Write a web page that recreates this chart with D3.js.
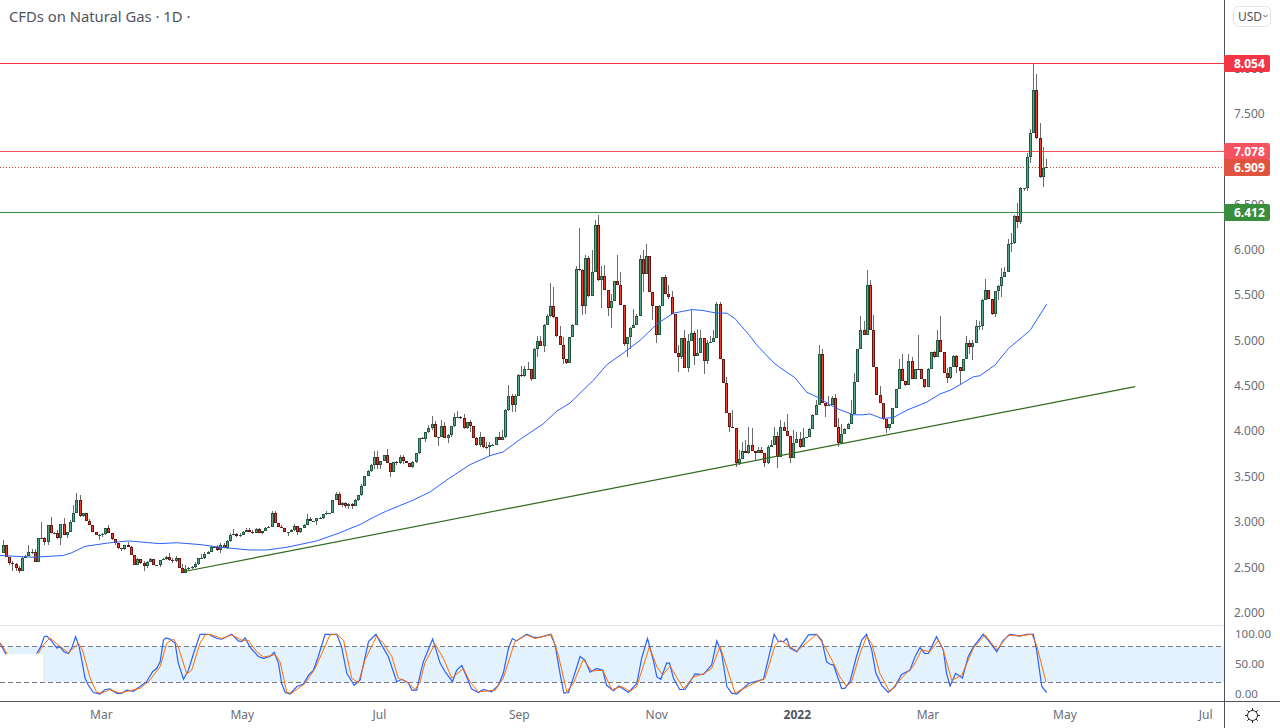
<!DOCTYPE html>
<html>
<head>
<meta charset="utf-8">
<script src="https://cdn.jsdelivr.net/npm/d3@7/dist/d3.min.js"></script>
<style>
  html, body { margin: 0; padding: 0; background: #fff; overflow: hidden; }
  svg { display: block; font-family: "Noto Sans", sans-serif; }
</style>
</head>
<body>
<div id="chart"></div>
<script>
var closes = [
  2.75,2.61,2.55,2.54,2.49,2.46,2.60,2.62,2.67,2.67,
  2.56,2.82,2.82,2.775,2.97,2.88,2.88,2.82,2.98,2.86,
  2.89,3.00,3.10,3.24,3.06,3.10,3.01,2.96,2.89,2.86,
  2.86,2.87,2.93,2.88,2.81,2.77,2.71,2.70,2.75,2.72,
  2.64,2.53,2.59,2.55,2.51,2.56,2.59,2.53,2.53,2.575,
  2.59,2.61,2.58,2.57,2.60,2.49,2.44,2.48,2.49,2.505,
  2.54,2.60,2.60,2.65,2.67,2.72,2.72,2.69,2.75,2.71,
  2.79,2.86,2.87,2.84,2.86,2.89,2.91,2.89,2.875,2.92,
  2.88,2.90,2.93,2.94,3.10,2.99,2.94,2.93,2.89,2.89,
  2.91,2.95,2.89,2.93,2.97,3.03,3.01,3.01,3.04,3.04,
  3.09,3.10,3.10,3.24,3.31,3.19,3.21,3.18,3.20,3.17,
  3.24,3.30,3.40,3.505,3.56,3.63,3.71,3.63,3.67,3.74,
  3.65,3.55,3.66,3.65,3.72,3.67,3.65,3.60,3.66,3.76,
  3.92,3.91,3.985,4.03,4.08,3.93,3.94,4.06,3.92,3.96,
  4.06,4.16,4.16,4.14,4.04,4.10,4.06,3.92,3.85,3.94,
  3.83,3.82,3.85,3.85,3.93,3.90,3.93,4.23,4.39,4.29,
  4.39,4.62,4.61,4.68,4.68,4.57,4.91,4.99,4.94,5.17,
  5.27,5.38,5.26,5.05,4.95,4.80,4.75,5.04,5.17,5.79,
  5.78,5.38,5.91,5.49,5.75,6.27,5.67,5.71,5.56,5.36,
  5.43,5.65,5.61,5.39,4.96,5.04,5.14,5.17,5.27,5.90,
  5.73,5.93,5.53,5.38,5.06,5.38,5.70,5.51,5.48,5.29,
  4.86,4.82,5.03,4.70,4.99,5.08,4.83,4.86,5.03,4.77,
  4.975,4.98,5.03,5.40,4.80,4.535,4.205,4.05,4.04,3.645,
  3.69,3.78,3.755,3.85,3.78,3.755,3.79,3.76,3.645,3.82,
  3.85,3.95,3.71,4.05,4.00,3.95,3.70,3.865,3.91,3.83,
  3.92,3.93,4.02,4.18,4.29,4.85,4.31,4.28,4.29,4.37,
  4.05,3.865,3.97,4.02,4.08,4.19,4.545,4.91,5.11,5.06,
  5.615,5.11,4.71,4.40,4.31,4.13,4.03,4.08,4.25,4.46,
  4.69,4.55,4.51,4.77,4.57,4.69,4.68,4.57,4.49,4.68,
  4.875,4.82,5.00,4.875,4.645,4.59,4.71,4.83,4.71,4.66,
  4.80,4.975,4.93,4.975,5.16,5.16,5.44,5.56,5.46,5.29,
  5.54,5.60,5.70,5.755,6.06,6.07,6.37,6.30,6.68,6.68,
  7.02,7.29,7.755,7.235,6.805,6.905,6.909
];
var firstOpen = 2.66;

// wick length above the body, one per bar
var wickUp = [
  .055,0,0,.02,.01,.02,.01,.01,.07,.035,
  .035,0,.18,.01,0,.085,.01,.03,0,.065,
  0,.02,.09,.075,.055,0,0,.02,0,0,
  .01,.01,0,.035,0,0,0,0,0,.025,
  .01,0,.01,0,.02,.01,.01,0,0,.01,
  .01,.015,.045,.02,.02,0,.05,.05,.01,.01,
  .02,0,.05,.015,.01,.015,.01,.025,.02,.02,
  .015,.015,.05,.01,.02,.01,.02,.02,.02,.01,
  .01,0,.01,.01,.025,.02,0,.02,0,0,
  .01,.025,0,0,.01,.055,.02,0,0,.01,
  0,.02,0,0,.02,.02,.01,.01,.01,.01,
  .01,0,.02,0,.01,.01,.07,.075,0,0,
  .06,0,0,.01,.02,.02,0,0,.01,0,
  0,.01,0,.035,.09,.035,0,.06,.04,.01,
  0,.035,.06,.01,.05,0,.02,0,.02,.05,
  0,.05,.03,.01,.01,.055,.08,.01,.115,.02,
  .02,.01,.1,.035,.085,.01,.01,.055,.055,.01,
  .02,.25,.21,0,.105,.09,0,0,.01,.025,
  .45,.01,.03,.025,.25,.06,.11,.11,.12,0,
  .08,.01,.29,.145,0,0,.01,.18,.02,.04,
  .1,.13,0,0,0,.01,0,.02,.1,.065,
  0,.085,0,.08,.08,.25,.02,.27,.08,0,
  .03,.07,.08,.02,.02,0,.06,0,.18,0,
  .1,.1,.12,.2,.19,0,.04,.04,0,.03,
  .05,.1,.04,.07,.05,.19,0,.15,.08,.08,
  .11,.01,.01,.01,.055,.1,.06,0,.1,.02,
  .04,.09,.11,.01,.01,.15,.1,0,.16,.1,
  .16,.05,.17,0,.1,0,0,0,0,0,
  .11,.16,0,.08,.05,0,.37,.01,0,.02,
  0,.01,.11,.27,0,.05,0,.01,.01,0,
  0,.07,.025,.025,.065,.05,.02,.12,0,0,
  0,.01,.1,.05,.055,.11,.01,.14,.01,0,
  .05,.035,.30,.18,.16,.23,.09
];

// wick length below the body, one per bar
var wickDown = [
  0,0,.03,.08,.035,.025,0,0,0,.02,
  0,0,.01,.03,.025,0,0,.01,.07,0,
  .035,0,0,0,.01,.01,0,0,0,.01,
  .065,.03,.01,0,.01,.02,.01,.02,.01,0,
  0,0,.01,.01,.05,.02,0,0,0,.03,
  0,.01,.01,.02,.01,0,0,0,.01,.01,
  .01,.01,0,.01,0,0,.01,.01,.035,0,
  .01,.01,0,.01,.01,.01,0,0,.01,0,
  0,.01,0,0,0,0,0,0,0,.045,
  0,.01,.04,.01,0,0,0,.01,.05,0,
  .01,.01,.01,0,0,0,.025,.03,.04,.03,
  0,.01,.01,.01,0,.01,.05,.05,.045,0,
  0,.05,0,.02,.01,.03,0,0,.01,.01,
  .01,0,.035,.01,.02,0,.09,.01,0,.055,
  .03,.01,0,.01,.02,.02,.065,0,.01,.02,
  .02,.02,.09,0,0,0,0,.01,.01,.08,
  .08,0,.01,.01,0,.015,0,.09,0,.065,
  0,.01,.01,.01,0,.055,.01,0,0,0,
  .01,.1,.09,.01,0,0,.01,.31,0,.095,
  .22,0,0,0,.02,.14,.135,0,0,0,
  .2,0,0,.15,.09,0,0,0,.02,0,
  0,.17,.03,0,.05,0,.1,0,0,.14,
  .03,0,0,0,0,.01,0,.06,0,.035,
  .02,0,0,.01,0,.07,0,0,.045,.01,
  0,0,.12,0,0,0,.055,0,0,.02,
  0,0,0,0,0,0,0,.12,0,0,
  0,.045,0,0,0,0,0,0,0,0,
  0,0,0,0,0,.01,.055,.02,0,0,
  0,0,.01,0,0,0,0,0,.01,0,
  0,.01,0,0,0,.065,.02,0,.07,.14,
  0,0,.08,.15,0,.045,.04,0,0,.01,
  .035,.1,.12,0,0,.09,.01,.06,.02,.03,
  .03,.06,0,.01,.02,.11,.01
];

// 50-period moving average, read along the time scale
var maBars = [-0.8,9.4,18.7,21.3,25.4,33.1,38.8,48.5,53.7,60.9,67.1,76.3,81.5,87.7,96.9,104.1,106.7,110.3,114.4,118.5,122.6,126.7,131.9,137.8,144.2,150.4,154.4,159.7,166.8,171,175.1,182.3,186.4,191.5,196.7,201.9,207,212.7,216.1,220.4,223.5,226,230.6,232.7,237.8,239.9,244.5,248.1,251.7,257.4,262.5,265.6,267.7,271.3,274.9,279,285.2,289.3,292.4,295.4,299.6,301.6,306.3,310.4,317.1,322.2];
var maValues = [2.63,2.61,2.63,2.66,2.73,2.77,2.79,2.76,2.77,2.75,2.72,2.69,2.69,2.72,2.79,2.88,2.92,2.97,3.05,3.12,3.18,3.24,3.33,3.48,3.63,3.73,3.77,3.91,4.08,4.22,4.31,4.56,4.73,4.86,5.0,5.18,5.30,5.34,5.33,5.30,5.30,5.24,5.05,4.95,4.76,4.70,4.59,4.43,4.37,4.25,4.18,4.18,4.19,4.14,4.15,4.23,4.32,4.41,4.45,4.51,4.60,4.61,4.73,4.91,5.11,5.40];

// support line end points
var trendBars = [55.6, 349.5];
var trendValues = [2.45, 4.49];

var kBars = [-0.8,0,1,5,10.5,11.7,12.8,13.6,14.6,15.6,16.7,17.7,18.9,20.3,21.3,22.5,23.6,24.4,25.4,26.4,28,30,31.6,33.1,35.2,36.7,38.3,40.3,42.4,44.4,46.3,47.5,48.6,49.6,50.3,51.6,53.2,54.2,55.8,57.3,58.9,60.9,63.5,66.1,67.6,70.7,72.7,73.8,74.8,76.3,78.9,80.5,82.5,83.8,85.1,86.1,87.2,88.7,90.8,92.8,94.4,95.9,97.4,99.5,103.1,104.6,106.2,108.5,110.3,112.9,115.2,117.5,119,121.6,123.2,125.2,126.3,127.8,128.8,129.8,132.7,135,136.5,138.8,140.1,141.7,143.2,144.7,146.8,148.4,150.9,153,154.5,156.1,157.3,158.6,161.7,163.8,165.8,169.1,170.5,172,173.2,174.6,176.1,178.2,179.7,181.3,183.3,185.2,186.4,188.5,190.2,193.1,195.7,197.2,199,200.8,201.9,203.1,204.9,205.8,207,208.9,210.6,213.7,216.3,218.8,220.4,221.9,223.5,225,226.6,230.2,234.8,238.1,239.4,241,242,243,245.1,248.7,251.2,252.8,254.3,255.4,256.4,258.4,258.9,259.9,261.5,263.5,265.1,266.6,268.2,269.5,271.3,273.3,275.4,277.4,280,281.6,283.1,284.6,285.7,288.2,290.3,291.3,292.4,294.1,296.2,298,299.6,302.6,304.2,306.8,308.8,310.9,314,316,318.1,319.1,320.7,322.2];
var kValues = [85,77,67,null,68,79,96,97,92,85,77,79,71,68,77,96,79,57,27,15.5,3,0.5,8,9,1.6,1.6,7,5,13,21,38,43,54,90,94,92,85,52,25,40,68,100,100,93,92,100,89,88,94,79,63,60,63,70,52,18,3,0.5,13,17,32,40,63,100,100,79,35,15,24,88,100,77,63,21,25,19,7,7,32,54,92,52,38,21,40,48,29,9,3,8,4,15,35,77,93,89,100,95,95,100,82,35,2,3,27,63,57,37,43,40,15,6,14,3,18,60,93,57,29,25,52,52,27,8,8,34,33,49,89,68,13,2,0.5,18,25,100,88,88,93,77,71,99,100,90,54,50,49,18,10,10,21,63,90,100,74,35,15,3,13,33,40,63,78,68,68,96,74,35,14,35,27,63,79,100,90,71,90,100,97,100,100,74,13,3];

var dBars = [-0.8,0.7,1.4,5,11,12.5,14.6,16.7,20.3,23.4,24.6,27,29,30.6,33.1,36.2,39.8,42.4,45,48.6,50.6,52.7,54.2,56.8,58.3,60.9,62.5,64,67.6,70.7,73.8,75.8,78.4,80.5,84.1,85.6,87.7,89.2,93.3,96.4,98.5,101,103.1,105.2,107.7,109.8,111.8,115.4,117.5,120.1,122.1,124.7,127.3,128.8,130.3,133.4,136,138.6,142.2,144.2,146.8,152,154.5,158.1,161.7,164.3,169.4,171.5,174.1,176.1,179.2,181.8,185.2,188,191.1,193.6,195.7,199.6,201.9,203.7,206,210.1,213.2,216.3,218.8,221.4,226,231.7,235.3,238.4,240.1,245.1,251.2,253.8,256.4,258.4,260.5,262,264.6,266.6,268.2,270.7,273.8,275.9,279,281,283.6,286.2,288.8,290.3,292.9,296,299.6,303.2,306.8,310.4,313.5,317.6,319.1,322];
var dValues = [86,74,67,null,68,82,94,84,69,85,74,27,3,2,8,2,7,10,21,46,85,92,79,34,40,85,99,100,93,99,90,90,71,62,66,54,3,2,18,43,68,99,100,90,27,19,57,97,85,63,27,21,8,21,52,84,60,27,43,21,4,7,27,88,99,93,100,65,4,18,58,39,40,8,13,5,13,79,46,32,47,9,29,34,43,80,2,18,27,82,90,72,100,79,52,29,13,21,68,96,85,35,4,18,36,46,74,71,90,74,23,32,77,99,74,99,97,100,82,20.5];

// horizontal levels with their price labels
var levelValues = [8.054, 7.078, 6.909, 6.412];
var levelColors = ["#f23645", "#f7525f", "#e0533f", "#388e3c"];

var priceTicks = [2, 2.5, 3, 3.5, 4, 4.5, 5, 5.5, 6, 6.5, 7, 7.5, 8];
var stochTicks = [0, 50, 100];
var timeBars = [30.3, 73.8, 116.1, 159.3, 201.7, 245.1, 285.4, 327.7, 371.1];
var timeLabels = ["Mar", "May", "Jul", "Sep", "Nov", "2022", "Mar", "May", "Jul"];

var width = 1280, height = 728;
var paneRight = 1224.5, stochTop = 625, timeAxisY = 701;
var lastBarX = 1046, barStep = 3.2;

var svg = d3.select("#chart").append("svg")
    .attr("width", width)
    .attr("height", height);

var x = d3.scaleLinear().domain([0, 322]).range([2.7, lastBarX]);
var xBar = d3.scaleLinear()
    .domain([0, closes.length - 1])
    .range([lastBarX - (closes.length - 1) * barStep, lastBarX]);
var y = d3.scaleLinear().domain([2, 8]).range([612.6, 68.2]);
var yStoch = d3.scaleLinear().domain([0, 100]).range([694.3, 634.3]);

var bars = closes.map(function(c, i) {
    var o = i === 0 ? firstOpen : closes[i - 1];
    return {
        pos: i,
        open: o,
        close: c,
        high: Math.max(o, c) + wickUp[i],
        low: Math.min(o, c) - wickDown[i]
    };
});

// stochastic band
svg.append("rect")
    .attr("x", 43).attr("y", yStoch(80))
    .attr("width", paneRight - 43).attr("height", yStoch(20) - yStoch(80))
    .attr("fill", "#e3f2fd");
svg.append("rect")
    .attr("x", 7).attr("y", yStoch(80))
    .attr("width", 36).attr("height", 8)
    .attr("fill", "#e3f2fd");

[80, 20].forEach(function(v) {
    svg.append("line")
        .attr("x1", 0).attr("x2", paneRight)
        .attr("y1", Math.round(yStoch(v)) + 0.5).attr("y2", Math.round(yStoch(v)) + 0.5)
        .attr("stroke", "#787b86")
        .attr("stroke-dasharray", "5,3");
});

var lineStoch = d3.line()
    .defined(function(d) { return d[1] !== null; })
    .x(function(d) { return x(d[0]); })
    .y(function(d) { return yStoch(d[1]); });

svg.append("path")
    .datum(d3.zip(kBars, kValues))
    .attr("d", lineStoch)
    .attr("fill", "none")
    .attr("stroke", "#2962ff")
    .attr("stroke-width", 1.2);
svg.append("path")
    .datum(d3.zip(dBars, dValues))
    .attr("d", lineStoch)
    .attr("fill", "none")
    .attr("stroke", "#ff6d00")
    .attr("stroke-width", 1);

// price levels
levelValues.forEach(function(v, i) {
    svg.append("line")
        .attr("x1", 0).attr("x2", paneRight)
        .attr("y1", Math.floor(y(v)) + 0.5).attr("y2", Math.floor(y(v)) + 0.5)
        .attr("stroke", levelColors[i])
        .attr("stroke-dasharray", v === 6.909 ? "1,2" : null);
});

// candles
var candle = svg.append("g").selectAll("g")
    .data(bars)
    .join("g")
    .attr("shape-rendering", "crispEdges")
    .attr("transform", function(d) { return "translate(" + Math.round(xBar(d.pos)) + ",0)"; });

candle.append("rect")
    .attr("x", 0).attr("width", 1)
    .attr("y", function(d) { return y(d.high); })
    .attr("height", function(d) { return y(d.low) - y(d.high); })
    .attr("fill", "#6b6b6b");
candle.append("rect")
    .attr("x", -1).attr("width", 3)
    .attr("y", function(d) { return Math.round(y(Math.max(d.open, d.close))); })
    .attr("height", function(d) { return Math.max(1, Math.round(y(Math.min(d.open, d.close))) - Math.round(y(Math.max(d.open, d.close)))); })
    .attr("fill", function(d) { return d.close >= d.open ? "#1f5a40" : "#6b1510"; });
candle.append("rect")
    .attr("x", 0).attr("width", 1)
    .attr("y", function(d) { return Math.round(y(Math.max(d.open, d.close))) + 1; })
    .attr("height", function(d) { return Math.max(0, Math.round(y(Math.min(d.open, d.close))) - Math.round(y(Math.max(d.open, d.close))) - 2); })
    .attr("fill", function(d) { return d.close >= d.open ? "#56a583" : "#ea3f2c"; });

// moving average
svg.append("path")
    .datum(d3.zip(maBars, maValues))
    .attr("d", d3.line()
        .x(function(d) { return x(d[0]); })
        .y(function(d) { return y(d[1]); }))
    .attr("fill", "none")
    .attr("stroke", "#2962ff")
    .attr("stroke-width", 1);

// support line
svg.append("path")
    .datum(d3.zip(trendBars, trendValues))
    .attr("d", d3.line()
        .x(function(d) { return x(d[0]); })
        .y(function(d) { return y(d[1]); }))
    .attr("stroke", "#33691e")
    .attr("stroke-width", 1.2);

// pane frames
svg.append("line").attr("x1", 0).attr("x2", paneRight)
    .attr("y1", stochTop + 0.5).attr("y2", stochTop + 0.5)
    .attr("stroke", "#e0e3eb");
svg.append("line").attr("x1", 0).attr("x2", width)
    .attr("y1", timeAxisY + 0.5).attr("y2", timeAxisY + 0.5)
    .attr("stroke", "#50535e");
svg.append("line").attr("x1", paneRight).attr("x2", paneRight)
    .attr("y1", 0).attr("y2", height)
    .attr("stroke", "#50535e");

// axes; the 7.000 and 8.000 ticks lie behind the price labels as in the reference
var priceAxis = d3.axisRight(y)
    .tickValues(priceTicks)
    .tickSize(0)
    .tickPadding(0)
    .tickFormat(d3.format(".3f"));
svg.append("g").attr("class", "axis")
    .attr("transform", "translate(1234,0)")
    .call(priceAxis);

var stochAxis = d3.axisRight(yStoch)
    .tickValues(stochTicks)
    .tickSize(0)
    .tickPadding(0)
    .tickFormat(d3.format(".2f"));
svg.append("g").attr("class", "axis stoch")
    .attr("transform", "translate(1235,0)")
    .call(stochAxis);

var timeAxis = d3.axisBottom(x)
    .tickValues(timeBars)
    .tickSize(0)
    .tickPadding(0)
    .tickFormat(function(d, i) { return timeLabels[i]; });
svg.append("g").attr("class", "axis time")
    .attr("transform", "translate(0,710)")
    .call(timeAxis);

svg.selectAll(".axis .domain").remove();
svg.selectAll(".axis text")
    .attr("fill", "#6a6d78")
    .attr("font-size", 12)
    .attr("font-family", '"Noto Sans", sans-serif');
svg.selectAll(".stoch text").attr("font-size", 11.5);
svg.selectAll(".time text")
    .filter(function(d, i) { return timeLabels[i] === "2022"; })
    .attr("fill", "#50535e")
    .attr("font-weight", 700);

// price labels on the axis
var tags = svg.append("g").selectAll("g")
    .data(levelValues)
    .join("g")
    .attr("transform", function(d) { return "translate(1224," + Math.floor(y(d)) + ")"; });
tags.append("rect")
    .attr("x", 0).attr("y", -8)
    .attr("width", 46).attr("height", 17)
    .attr("rx", 2)
    .attr("fill", function(d, i) { return levelColors[i]; });
tags.append("text")
    .attr("x", 10).attr("y", 5)
    .attr("fill", "#fff")
    .attr("font-size", 12)
    .attr("font-weight", 700)
    .text(function(d) { return d3.format(".3f")(d); });

// title
svg.append("text")
    .attr("x", 9).attr("y", 22)
    .attr("fill", "#50535e")
    .attr("font-size", 14.8)
    .text("CFDs on Natural Gas \u00b7 1D \u00b7");

// currency button
svg.append("rect")
    .attr("x", 1233.5).attr("y", 6.5)
    .attr("width", 37).attr("height", 20)
    .attr("rx", 5)
    .attr("fill", "#fff")
    .attr("stroke", "#e0e3eb");
svg.append("text")
    .attr("x", 1238).attr("y", 20.5)
    .attr("fill", "#50535e")
    .attr("font-size", 12)
    .text("USD");
svg.append("path")
    .attr("d", "M1263.5,15l2,2l2,-2")
    .attr("fill", "none")
    .attr("stroke", "#50535e");

// settings icon
var gear = svg.append("g").attr("transform", "translate(1252.5,715.5)");
gear.append("circle").attr("r", 5).attr("fill", "none").attr("stroke", "#222");
d3.range(8).forEach(function(k) {
    var a = k * Math.PI / 4;
    gear.append("line")
        .attr("x1", 5 * Math.cos(a)).attr("y1", 5 * Math.sin(a))
        .attr("x2", 7.5 * Math.cos(a)).attr("y2", 7.5 * Math.sin(a))
        .attr("stroke", "#222");
});
</script>
</body>
</html>
